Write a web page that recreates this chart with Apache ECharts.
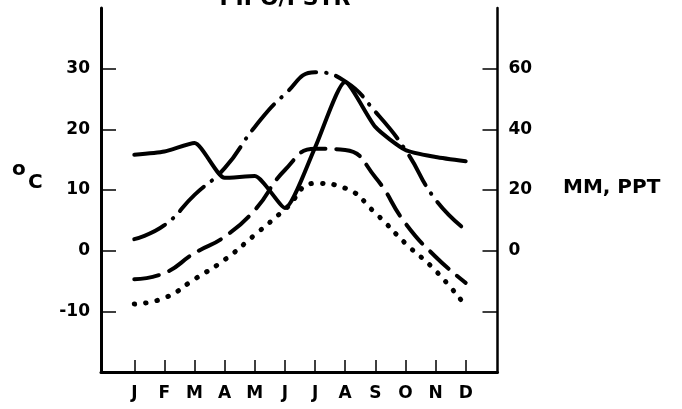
<!DOCTYPE html>
<html><head><meta charset="utf-8">
<script src="https://cdn.jsdelivr.net/npm/echarts@6/dist/echarts.min.js"></script>
<style>html,body{margin:0;padding:0;background:#fff}#c{width:682px;height:409px}</style>
</head><body><div id="c"></div>
<script>
// ---- data ----
const months = ['J','F','M','A','M','J','J','A','S','O','N','D'];
const monthIndex = [0,1,2,3,4,5,6,7,8,9,10,11];
const tempTicks = [-10,0,10,20,30];
const mmTicks = [-20,0,20,40,60];
const mmLabels = [0,20,40,60];
// solid line, right axis (MM)
const precipMM = [31.6,32.7,35.5,24.0,24.6,14.1,34.0,55.6,40.8,33.2,30.9,29.5];
// dash-dot line, left axis (°C)
const tempMax = [1.9,4.2,9.2,13.6,20.4,25.8,29.4,27.9,22.9,16.6,8.4,3.4];
// dashed line, left axis (°C)
const tempMean = [-4.7,-3.7,-0.4,2.3,6.7,13.3,16.8,16.6,12.1,4.5,-1.0,-5.3];
// dotted line, left axis (°C)
const tempMin = [-8.8,-7.8,-4.7,-1.5,2.6,6.8,11.1,10.3,6.2,1.2,-3.3,-9.1];

const pairs = arr => monthIndex.map((m, i) => [m, arr[i]]);
const FONT = 'DejaVu Sans';
const INK = '#000';

const chart = echarts.init(document.getElementById('c'), null, {renderer: 'canvas'});
chart.setOption({
  animation: false,
  backgroundColor: '#fff',
  grid: {left: 101, right: 184.5, top: 8, bottom: 37},
  xAxis: {
    type: 'value', min: -1.105, max: 12.056,
    splitLine: {show: false},
    axisLine: {show: true, onZero: false, lineStyle: {color: INK, width: 3}},
    axisTick: {show: true, inside: true, length: 12, customValues: monthIndex, lineStyle: {color: INK, width: 1.5}},
    axisLabel: {show: true, customValues: monthIndex, formatter: v => months[Math.round(v)],
      margin: 13, fontFamily: FONT, fontWeight: 'bold', fontSize: 17, color: INK}
  },
  yAxis: [{
    type: 'value', min: -20, max: 40, position: 'left',
    splitLine: {show: false},
    axisLine: {show: true, onZero: false, lineStyle: {color: INK, width: 3}},
    axisTick: {show: true, inside: true, length: 15, customValues: tempTicks, lineStyle: {color: INK, width: 1.5}},
    axisLabel: {show: true, customValues: tempTicks, margin: 11, fontFamily: FONT, fontWeight: 'bold', fontSize: 17, color: INK}
  }, {
    type: 'value', min: -40, max: 80, position: 'right',
    splitLine: {show: false},
    axisLine: {show: true, onZero: false, lineStyle: {color: INK, width: 2.5}},
    axisTick: {show: true, inside: true, length: 15, customValues: mmTicks, lineStyle: {color: INK, width: 1.5}},
    axisLabel: {show: true, customValues: mmLabels, margin: 11, fontFamily: FONT, fontWeight: 'bold', fontSize: 17, color: INK}
  }],
  series: [{
    name: 'MM', type: 'line', yAxisIndex: 1, data: pairs(precipMM), smooth: 0.2,
    symbol: 'none', lineStyle: {color: INK, width: 4, cap: 'round', join: 'round'}
  }, {
    name: 'Max', type: 'line', yAxisIndex: 0, data: pairs(tempMax), smooth: true,
    symbol: 'none', lineStyle: {color: INK, width: 4, cap: 'round', type: [34, 10, 0.5, 10]}
  }, {
    name: 'Mean', type: 'line', yAxisIndex: 0, data: pairs(tempMean), smooth: true,
    symbol: 'none', lineStyle: {color: INK, width: 4, cap: 'round', type: [25, 11]}
  }, {
    name: 'Min', type: 'line', yAxisIndex: 0, data: pairs(tempMin), smooth: true,
    symbol: 'none', lineStyle: {color: INK, width: 5, cap: 'round', type: [0.5, 11]}
  }],
  graphic: [
    {type: 'text', x: 285, y: 10, style: {text: 'PIPO/PSTR', align: 'center', verticalAlign: 'bottom',
      font: 'bold 22px "DejaVu Sans"', fill: INK}},
    {type: 'text', x: 12, y: 170, style: {text: 'o', align: 'left', verticalAlign: 'middle',
      font: 'bold 20px "DejaVu Sans"', fill: INK}},
    {type: 'text', x: 28, y: 182.5, style: {text: 'C', align: 'left', verticalAlign: 'middle',
      font: 'bold 20px "DejaVu Sans"', fill: INK}},
    {type: 'text', x: 563, y: 187.5, style: {text: 'MM, PPT', align: 'left', verticalAlign: 'middle',
      font: 'bold 20px "DejaVu Sans"', fill: INK}}
  ]
});
</script>
</body></html>
